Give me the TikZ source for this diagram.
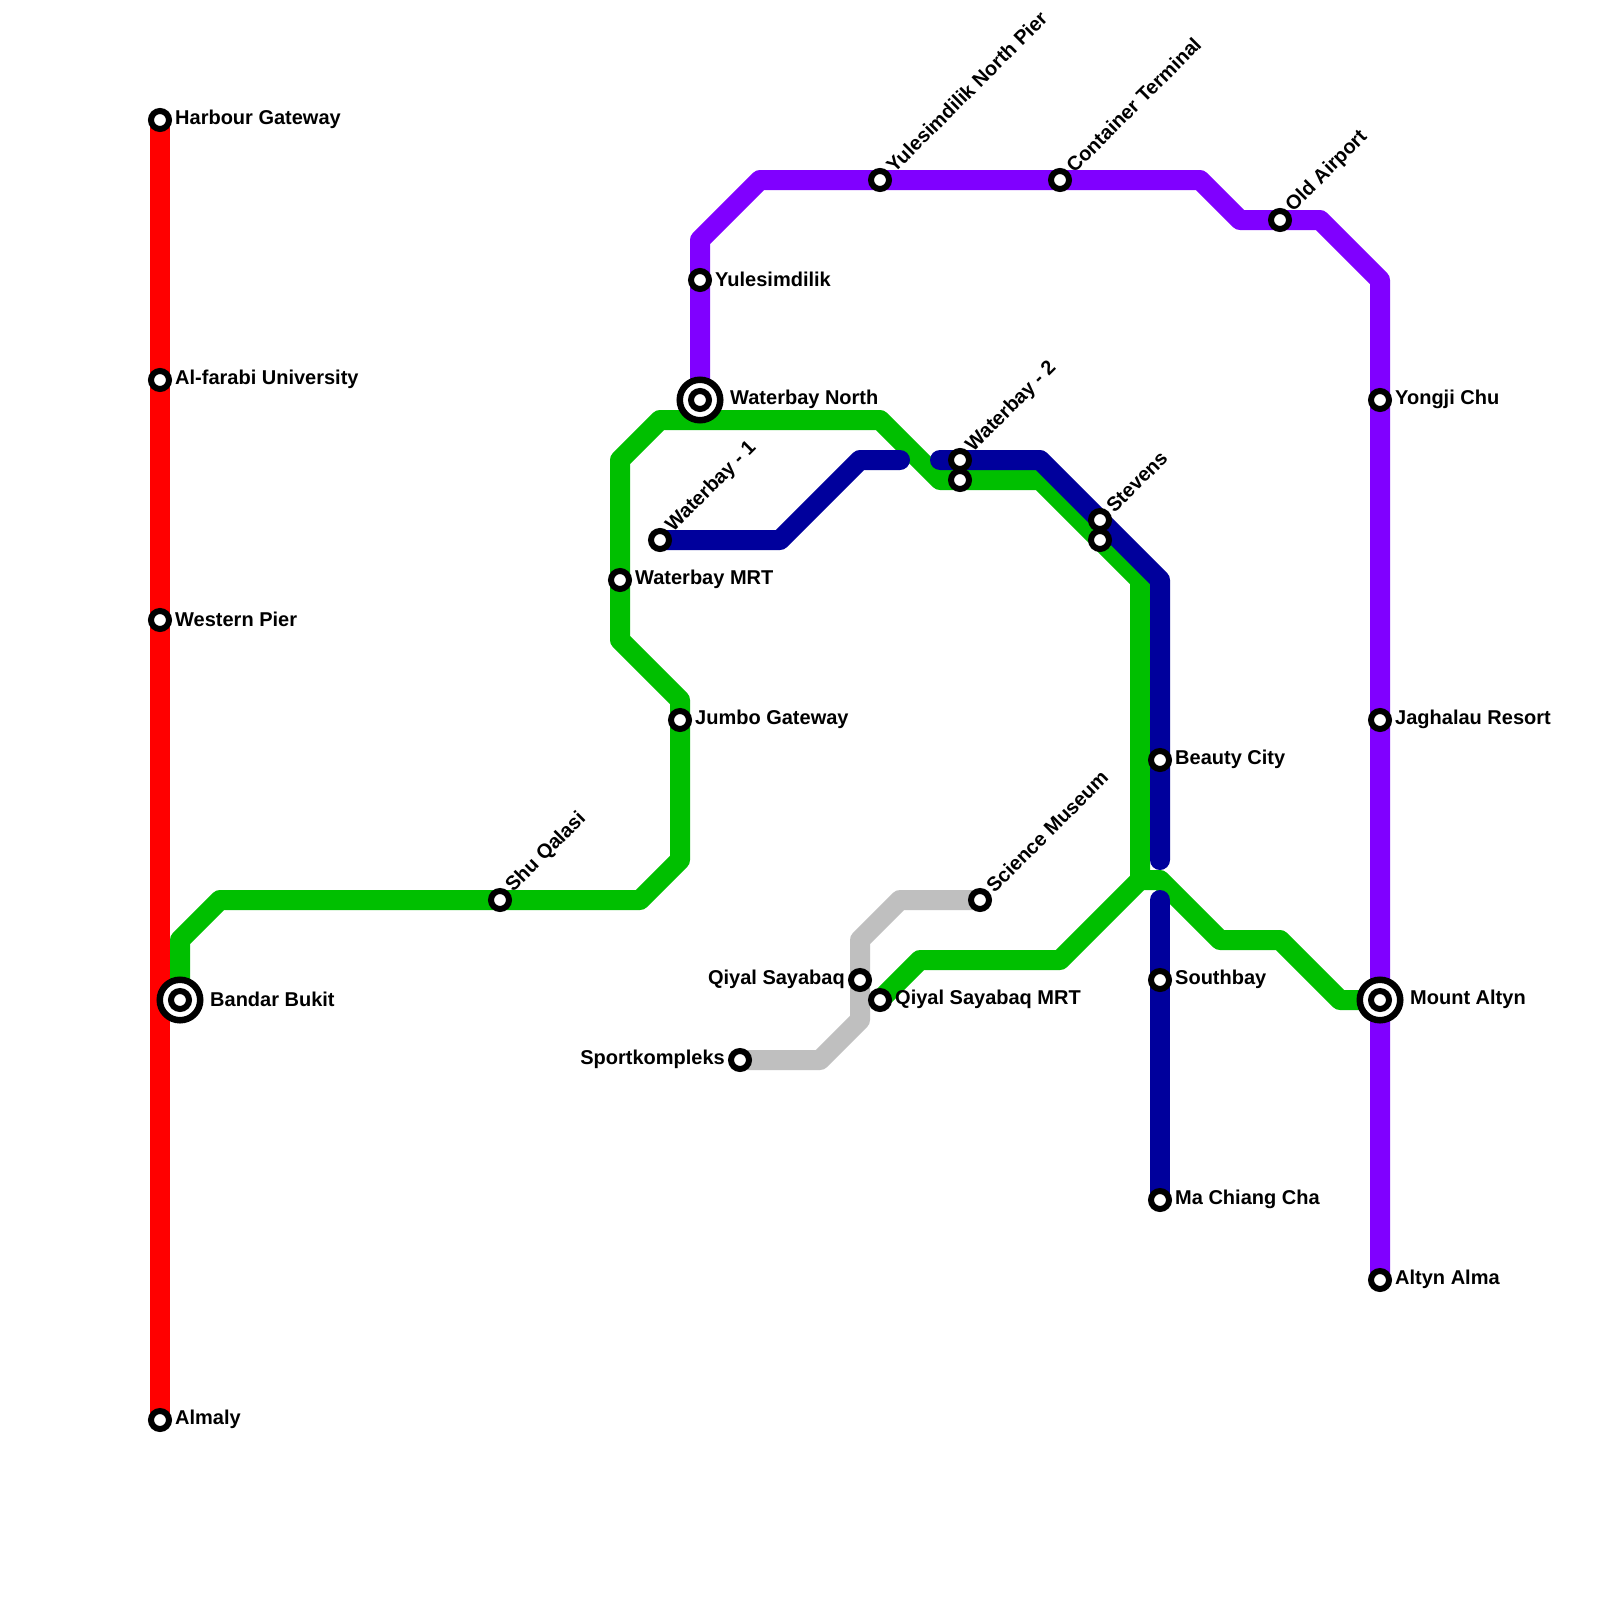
\documentclass[tikz,border=0pt]{standalone}
\usepackage{fontspec}
\setmainfont{Liberation Sans}
\pgfdeclarelayer{lines}
\pgfsetlayers{lines,main}
\definecolor{cred}{HTML}{FF0000}
\definecolor{cgreen}{HTML}{00BF00}
\definecolor{cblue}{HTML}{00009C}
\definecolor{cpurple}{HTML}{8000FF}
\definecolor{cgray}{HTML}{BFBFBF}
\tikzset{
  stn/.style={circle,draw=black,fill=white,line width=6pt,inner sep=0pt,minimum size=18pt},
  hub/.style={circle,draw=black,fill=white,line width=6.5pt,inner sep=0pt,minimum size=40.5pt},
  lbl/.style={font=\bfseries\fontsize{20pt}{22pt}\selectfont,inner sep=0pt,text=black,anchor=west},
  lbll/.style={lbl,anchor=east},
  lblr/.style={lbl,rotate=45,anchor=west},
  route/.style={line width=20pt,line join=round},
  roundroute/.style={route,line cap=round}
}
\begin{document}
\begin{tikzpicture}[x=1pt,y=-1pt]
\useasboundingbox (0,0) rectangle (1600,1600);
% stations
\node[stn] (harbour) at (160,120) {};
\node[stn] (alfarabi) at (160,380) {};
\node[stn] (western) at (160,620) {};
\node[stn] (almaly) at (160,1420) {};
\node[hub] (bandar) at (180,1000) {};
\node[stn] (bandarin) at (180,1000) {};
\node[stn] (shu) at (500,900) {};
\node[stn] (wbmrt) at (620,580) {};
\node[stn] (jumbo) at (680,720) {};
\node[stn] (wb1) at (660,540) {};
\node[hub] (wbnorth) at (700,400) {};
\node[stn] (wbnorthin) at (700,400) {};
\node[stn] (yules) at (700,280) {};
\node[stn] (yulesn) at (880,180) {};
\node[stn] (container) at (1060,180) {};
\node[stn] (oldair) at (1280,220) {};
\node[stn] (wb2) at (960,460) {};
\node[stn] (wb2g) at (960,480) {};
\node[stn] (stevens) at (1100,520) {};
\node[stn] (stevensg) at (1100,540) {};
\node[stn] (beauty) at (1160,760) {};
\node[stn] (southbay) at (1160,980) {};
\node[stn] (machiang) at (1160,1200) {};
\node[stn] (yongji) at (1380,400) {};
\node[stn] (jaghalau) at (1380,720) {};
\node[hub] (altyn) at (1380,1000) {};
\node[stn] (altynin) at (1380,1000) {};
\node[stn] (alma) at (1380,1280) {};
\node[stn] (science) at (980,900) {};
\node[stn] (qiyal) at (860,980) {};
\node[stn] (qiyalm) at (880,1000) {};
\node[stn] (sport) at (740,1060) {};
% routes
\begin{pgfonlayer}{lines}
\fill[white] (0,0) rectangle (1600,1600);
\coordinate (junction) at (1140,880);
\coordinate (blue1end) at (900,460);
\coordinate (blue2start) at (940,460);
\coordinate (blue2end) at (1160,860);
\coordinate (blue3start) at (1160,900);
\draw[route,cred] (harbour.center) -- (almaly.center);
\draw[route,cgreen] (bandar.center) -- (180,940) -- (220,900) -- (640,900) -- (680,860) -- (680,700) -- (620,640) -- (620,460) -- (660,420) -- (880,420) -- (940,480) -- (1040,480) -- (1140,580) -- (junction);
\draw[route,cgreen] (junction) -- (1160,880) -- (1220,940) -- (1280,940) -- (1340,1000) -- (altyn.center);
\draw[route,cgreen] (junction) -- (1060,960) -- (920,960) -- (qiyalm.center);
\draw[route,cpurple] (wbnorth.center) -- (700,240) -- (760,180) -- (1200,180) -- (1240,220) -- (1320,220) -- (1380,280) -- (alma.center);
\draw[route,cgray] (sport.center) -- (820,1060) -- (860,1020) -- (860,940) -- (900,900) -- (science.center);
\draw[roundroute,cblue] (wb1.center) -- (780,540) -- (860,460) -- (blue1end);
\draw[roundroute,cblue] (blue2start) -- (1040,460) -- (1160,580) -- (blue2end);
\draw[roundroute,cblue] (blue3start) -- (machiang.center);
\end{pgfonlayer}
% labels
\node[lbl] (lharbour) at (175,119) {Harbour Gateway};
\node[lbl] (lalfarabi) at (175,379) {Al-farabi University};
\node[lbl] (lwestern) at (175,619) {Western Pier};
\node[lbl] (lalmaly) at (175,1419) {Almaly};
\node[lbl] (lbandar) at (210,999) {Bandar Bukit};
\node[lbl] (lwbmrt) at (635,579) {Waterbay MRT};
\node[lbl] (ljumbo) at (695,719) {Jumbo Gateway};
\node[lbl] (lwbnorth) at (730,399) {Waterbay North};
\node[lbl] (lyules) at (715,279) {Yulesimdilik};
\node[lbl] (lbeauty) at (1175,759) {Beauty City};
\node[lbl] (lsouthbay) at (1175,979) {Southbay};
\node[lbl] (lmachiang) at (1175,1199) {Ma Chiang Cha};
\node[lbl] (lyongji) at (1395,399) {Yongji Chu};
\node[lbl] (ljaghalau) at (1395,719) {Jaghalau Resort};
\node[lbl] (laltyn) at (1410,999) {Mount Altyn};
\node[lbl] (lalma) at (1395,1279) {Altyn Alma};
\node[lbl] (lqiyalm) at (895,999) {Qiyal Sayabaq MRT};
\node[lbll] (lqiyal) at (845,979) {Qiyal Sayabaq};
\node[lbll] (lsport) at (725,1059) {Sportkompleks};
\node[lblr] (lshu) at (509.5,889) {Shu Qalasi};
\node[lblr] (lwb1) at (669.5,529) {Waterbay - 1};
\node[lblr] (lyulesn) at (889.5,169) {Yulesimdilik North Pier};
\node[lblr] (lcontainer) at (1069.5,169) {Container Terminal};
\node[lblr] (loldair) at (1289.5,209) {Old Airport};
\node[lblr] (lwb2) at (969.5,449) {Waterbay - 2};
\node[lblr] (lstevens) at (1109.5,509) {Stevens};
\node[lblr] (lscience) at (989.5,889) {Science Museum};
\end{tikzpicture}
\end{document}
